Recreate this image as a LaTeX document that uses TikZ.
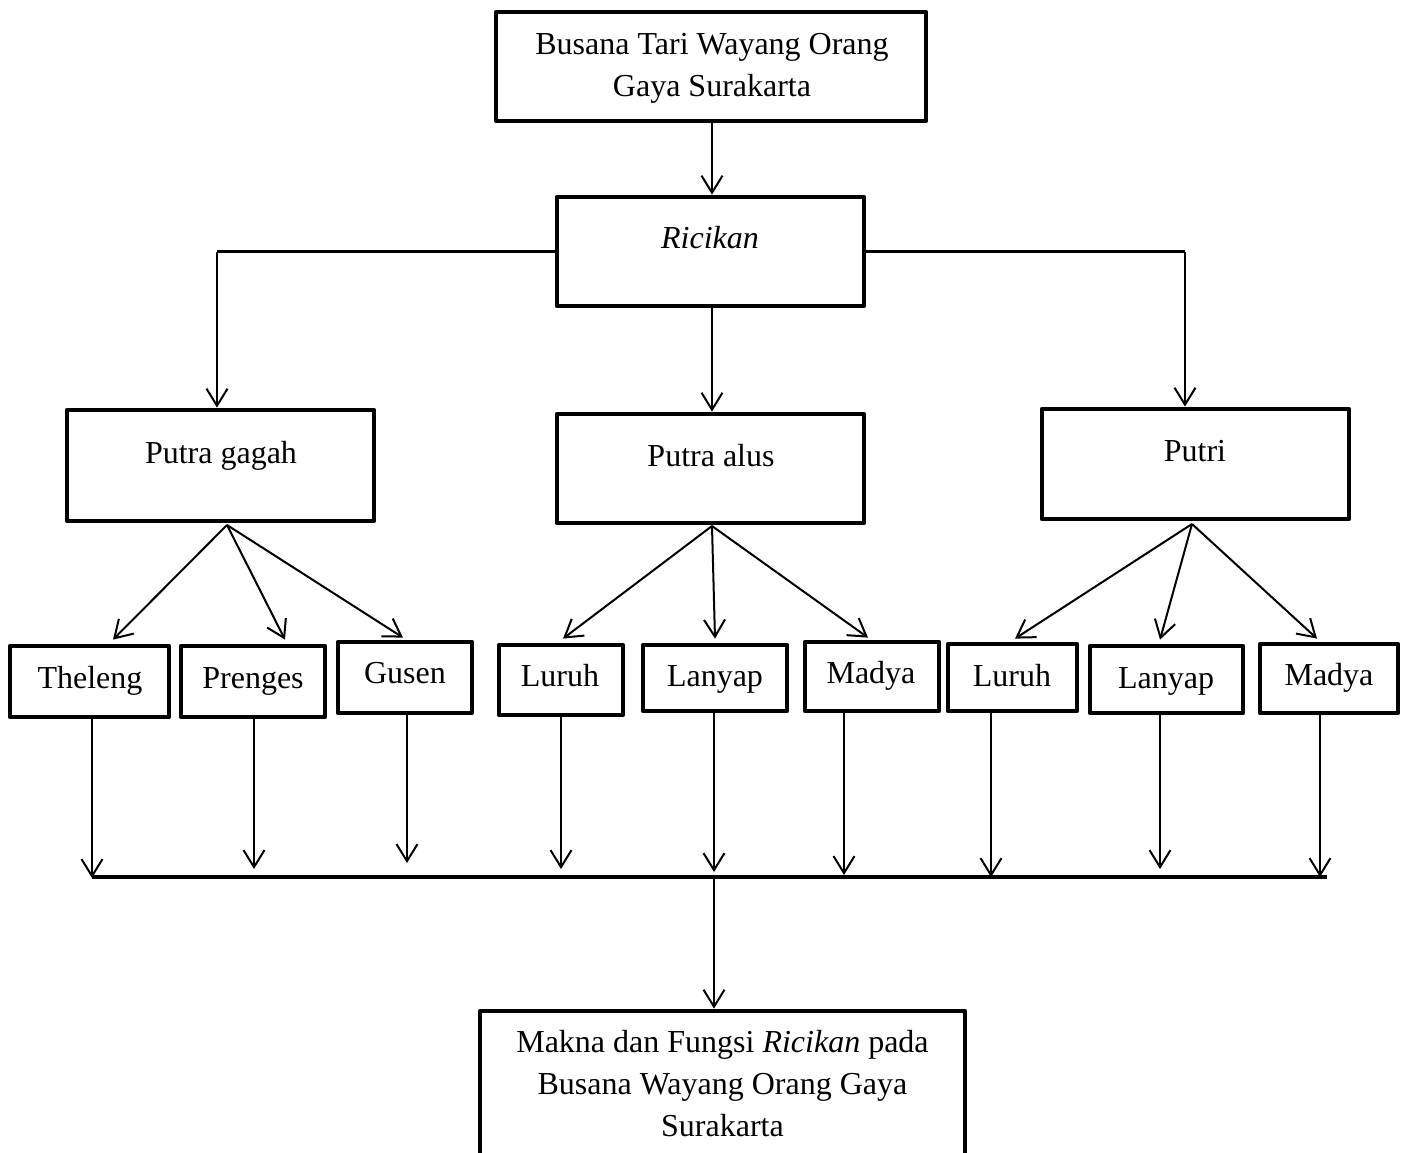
\documentclass[tikz,border=0pt]{standalone}
\usepackage{fontspec}
\setmainfont{Liberation Serif}
\usetikzlibrary{arrows.meta,calc}
\begin{document}
\begin{tikzpicture}[x=0.5pt,y=-0.5pt,
  box/.style={draw, line width=2.4pt, inner sep=0pt, line join=round},
  txt/.style={inner sep=0pt, font=\fontsize{16}{21}\selectfont, align=center},
  arr/.style={line width=1pt, -{Straight Barb[length=8.5pt,width=10.5pt,line width=1pt]}},
  conn/.style={line width=1.4pt},
  bus/.style={line width=1.6pt}]
\useasboundingbox[fill=white] (0,0) rectangle (1408,1152);

% boxes
\node[box, minimum width=215pt, minimum height=54.5pt] (top) at (711,66.5) {};
\node[box, minimum width=153.5pt, minimum height=54.5pt] (ric) at (710.5,251.5) {};
\node[box, minimum width=153.5pt, minimum height=55.5pt] (pg) at (220.5,465.5) {};
\node[box, minimum width=153.5pt, minimum height=54.5pt] (pa) at (710.5,468.5) {};
\node[box, minimum width=153.5pt, minimum height=55pt] (pu) at (1195.5,464) {};
\node[box, minimum width=79.5pt, minimum height=35.5pt] (th) at (89.5,681.5) {};
\node[box, minimum width=72pt, minimum height=35.5pt] (pr) at (253,681.5) {};
\node[box, minimum width=67pt, minimum height=35.5pt] (gu) at (405,677.5) {};
\node[box, minimum width=62pt, minimum height=35pt] (lua) at (561,680) {};
\node[box, minimum width=72pt, minimum height=33pt] (laa) at (715,678) {};
\node[box, minimum width=67pt, minimum height=34.5pt] (maa) at (872,676.5) {};
\node[box, minimum width=64.5pt, minimum height=33.5pt] (lub) at (1012.5,677.5) {};
\node[box, minimum width=76.5pt, minimum height=33.5pt] (lab) at (1166.5,679.5) {};
\node[box, minimum width=69pt, minimum height=34.5pt] (mab) at (1329,678.5) {};
\node[box, minimum width=242.5pt, minimum height=74.5pt] (mk) at (722.5,1085.5) {};

% texts
\node[txt, anchor=north] (top-t) at (712,33) {Busana Tari Wayang Orang\\Gaya Surakarta};
\node[txt, anchor=base] (ric-t) at (710,248) {\textit{Ricikan}};
\node[txt, anchor=base] (pg-t) at (221,463) {Putra gagah};
\node[txt, anchor=base] (pa-t) at (711,466) {Putra alus};
\node[txt, anchor=base] (pu-t) at (1195,461) {Putri};
\node[txt, anchor=base] (th-t) at (90,688) {Theleng};
\node[txt, anchor=base] (pr-t) at (253,688) {Prenges};
\node[txt, anchor=base] (gu-t) at (405,683) {Gusen};
\node[txt, anchor=base] (lua-t) at (560,686) {Luruh};
\node[txt, anchor=base] (laa-t) at (715,686) {Lanyap};
\node[txt, anchor=base] (maa-t) at (871,683) {Madya};
\node[txt, anchor=base] (lub-t) at (1012,686) {Luruh};
\node[txt, anchor=base] (lab-t) at (1166,688) {Lanyap};
\node[txt, anchor=base] (mab-t) at (1329,685) {Madya};
\node[txt, anchor=north] (mk-t) at (722.5,1030) {Makna dan Fungsi \textit{Ricikan} pada\\Busana Wayang Orang Gaya\\Surakarta};

% coordinates
\coordinate (lc) at (217,251.5);
\coordinate (rc) at (1185,251.5);
\coordinate (pgb) at (227,525);
\coordinate (pab) at (712,526);
\coordinate (pub) at (1192,524);
\coordinate (b1) at (92,878);
\coordinate (b2) at (254,869);
\coordinate (b3) at (407,863);
\coordinate (b4) at (561,869);
\coordinate (b5) at (714,872);
\coordinate (b6) at (844,875);
\coordinate (b7) at (991,877);
\coordinate (b8) at (1160,869);
\coordinate (b9) at (1320,877);
\coordinate (busL) at (92,877);
\coordinate (busR) at (1327,877);
\coordinate (busM) at (714,879);

% top connectors
\draw[arr] (top.south -| pab) -- (ric.north -| pab);
\draw[conn] (ric.west) -- (lc);
\draw[arr] (lc) -- (pg.north -| lc);
\draw[conn] (ric.east) -- (rc);
\draw[arr] (rc) -- (pu.north -| rc);
\draw[arr] (ric.south -| pab) -- (pa.north -| pab);

% fans
\draw[arr] (pgb) -- ($(th.north)+(23.5,-4)$);
\draw[arr] (pgb) -- ($(pr.north)+(32,-4)$);
\draw[arr] (pgb) -- ($(gu.north)+(-2,-2)$);
\draw[arr] (pab) -- ($(lua.north)+(2,-4)$);
\draw[arr] (pab) -- ($(laa.north)+(0,-4)$);
\draw[arr] (pab) -- ($(maa.north)+(-4,-2)$);
\draw[arr] (pub) -- ($(lub.north)+(2.5,-3)$);
\draw[arr] (pub) -- ($(lab.north)+(-6.5,-4)$);
\draw[arr] (pub) -- ($(mab.north)+(-12,-3)$);

% down to bus
\draw[arr] (th.south -| b1) -- (b1);
\draw[arr] (pr.south -| b2) -- (b2);
\draw[arr] (gu.south -| b3) -- (b3);
\draw[arr] (lua.south -| b4) -- (b4);
\draw[arr] (laa.south -| b5) -- (b5);
\draw[arr] (maa.south -| b6) -- (b6);
\draw[arr] (lub.south -| b7) -- (b7);
\draw[arr] (lab.south -| b8) -- (b8);
\draw[arr] (mab.south -| b9) -- (b9);
\draw[bus] (busL) -- (busR);
\draw[arr] (busM) -- (mk.north -| busM);
\end{tikzpicture}
\end{document}
